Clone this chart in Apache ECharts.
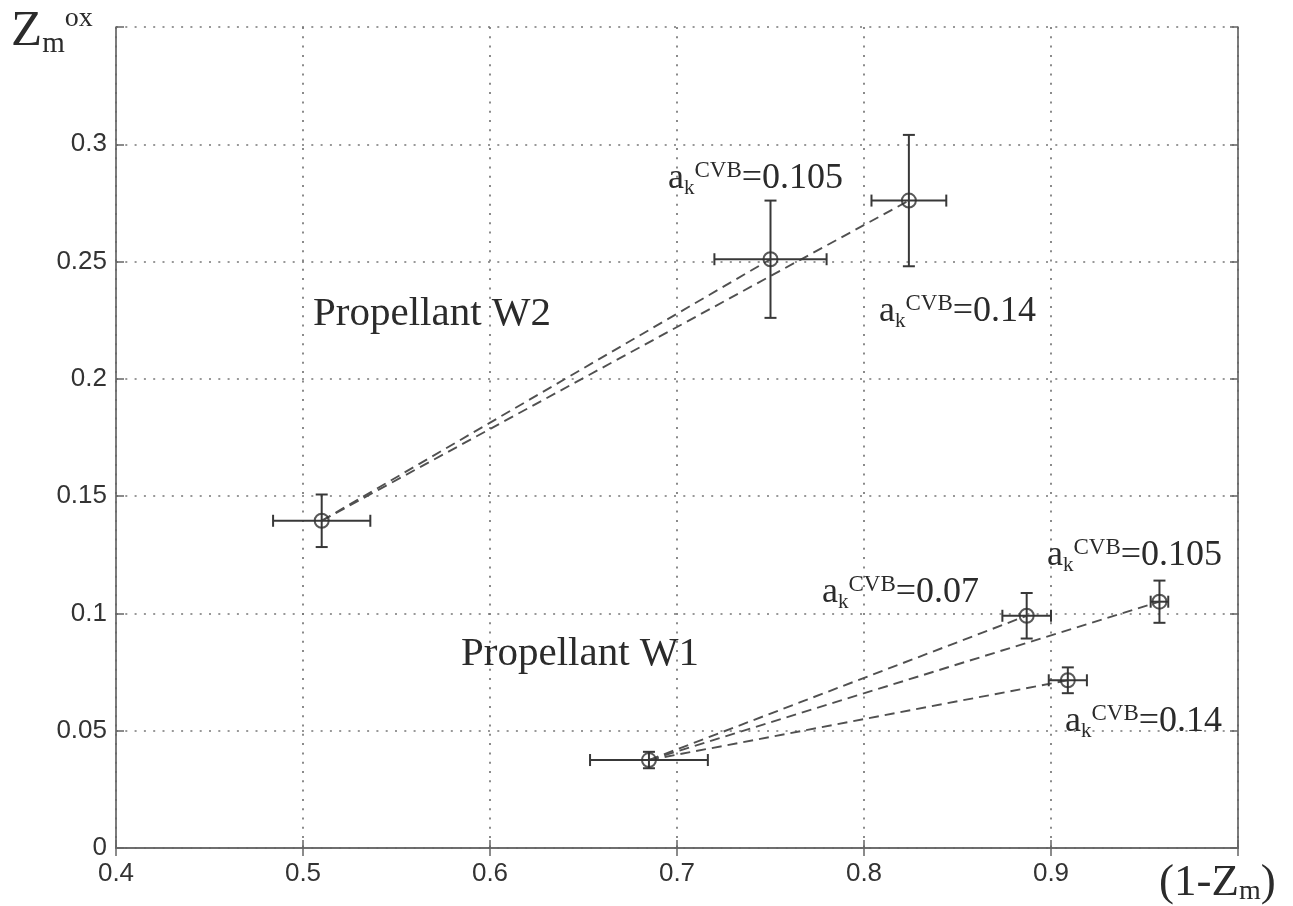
<!DOCTYPE html>
<html>
<head>
<meta charset="utf-8">
<title>Propellant W1 / W2</title>
<script src="https://cdn.jsdelivr.net/npm/echarts@6/dist/echarts.min.js"></script>
<style>
  html, body { margin: 0; padding: 0; background: #ffffff; }
  #chart { width: 1293px; height: 906px; }
</style>
</head>
<body>
<div id="chart"></div>
<script>
// Propellant W2: first point is the base state, the others follow it
const w2X = [0.51, 0.75, 0.824];
const w2Y = [0.1395, 0.251, 0.276];
const w2XErr = [0.026, 0.03, 0.02];
const w2YErr = [0.0112, 0.025, 0.028];

// Propellant W1: first point is the base state, the others follow it
const w1X = [0.685, 0.887, 0.958, 0.909];
const w1Y = [0.0375, 0.099, 0.105, 0.0715];
const w1XErr = [0.0315, 0.013, 0.0047, 0.0102];
const w1YErr = [0.0035, 0.0097, 0.009, 0.0055];

// Axis ticks
const xTicks = [0.4, 0.5, 0.6, 0.7, 0.8, 0.9, 1.0];
const yTicks = [0, 0.05, 0.1, 0.15, 0.2, 0.25, 0.3, 0.35];
const xTickLabels = ['0.4', '0.5', '0.6', '0.7', '0.8', '0.9', ''];
const yTickLabels = ['0', '0.05', '0.1', '0.15', '0.2', '0.25', '0.3', ''];

const SERIF = '"Liberation Serif", "Times New Roman", serif';
const SANS = '"Liberation Sans", Arial, Helvetica, sans-serif';
const INK = '#2b2b2b';

function tickLabel(ticks, labels) {
  return function (v) {
    for (let i = 0; i < ticks.length; i++) {
      if (Math.abs(ticks[i] - v) < 1e-9) return labels[i];
    }
    return '';
  };
}

function errorRows(xs, ys, dxs, dys) {
  return xs.map((x, i) => [x, ys[i], dxs[i], dys[i]]);
}

// dashed link from the base point to every other point of the same propellant
function links(xs, ys) {
  const out = [];
  for (let i = 1; i < xs.length; i++) out.push([[xs[0], ys[0]], [xs[i], ys[i]]]);
  return out;
}

function renderErrorBars(params, api) {
  const x = api.value(0), y = api.value(1), dx = api.value(2), dy = api.value(3);
  const l = api.coord([x - dx, y]), r = api.coord([x + dx, y]);
  const t = api.coord([x, y + dy]), b = api.coord([x, y - dy]);
  const cap = 6;
  const style = { stroke: '#383838', lineWidth: 2 };
  const seg = (x1, y1, x2, y2) => ({ type: 'line', shape: { x1, y1, x2, y2 }, style });
  return {
    type: 'group',
    children: [
      seg(l[0], l[1], r[0], r[1]),
      seg(l[0], l[1] - cap, l[0], l[1] + cap),
      seg(r[0], r[1] - cap, r[0], r[1] + cap),
      seg(t[0], t[1], b[0], b[1]),
      seg(t[0] - cap, t[1], t[0] + cap, t[1]),
      seg(b[0] - cap, b[1], b[0] + cap, b[1])
    ]
  };
}

const linkStyle = { color: '#505050', width: 1.9, type: [10, 6] };

const series = [];
links(w2X, w2Y).concat(links(w1X, w1Y)).forEach(seg => {
  series.push({
    type: 'line', data: seg, showSymbol: false, symbol: 'none',
    lineStyle: linkStyle, silent: true, z: 2
  });
});
series.push({
  type: 'custom', name: 'W2 error', renderItem: renderErrorBars,
  data: errorRows(w2X, w2Y, w2XErr, w2YErr), encode: { x: 0, y: 1 }, z: 3
});
series.push({
  type: 'custom', name: 'W1 error', renderItem: renderErrorBars,
  data: errorRows(w1X, w1Y, w1XErr, w1YErr), encode: { x: 0, y: 1 }, z: 3
});
[[w2X, w2Y], [w1X, w1Y]].forEach(([xs, ys]) => {
  series.push({
    type: 'scatter', symbol: 'circle', symbolSize: 14,
    data: xs.map((x, i) => [x, ys[i]]),
    itemStyle: { color: 'rgba(0,0,0,0)', borderColor: '#303030', borderWidth: 2 },
    z: 4
  });
});

// a_k^CVB annotation as rich text; (left, baseline) in pixels
const akRich = {
  a: { fontSize: 36, lineHeight: 40, fontFamily: SERIF, fill: INK },
  k: { fontSize: 21, lineHeight: 25, verticalAlign: 'bottom', fontFamily: SERIF, fill: INK },
  s: { fontSize: 23, lineHeight: 13, verticalAlign: 'top', fontFamily: SERIF, fill: INK }
};
function akNote(value, left, baseline) {
  return {
    type: 'text', x: left, y: baseline - 31, z: 10,
    style: {
      text: '{a|a}{k|k}{s|CVB}{a|=' + value + '}',
      rich: akRich, align: 'left', verticalAlign: 'top'
    }
  };
}
function plainNote(text, left, baseline) {
  return {
    type: 'text', x: left, y: baseline - 35.5, z: 10,
    style: {
      text: text, fontSize: 41, lineHeight: 46, fontFamily: SERIF,
      fill: INK, align: 'left', verticalAlign: 'top'
    }
  };
}

const graphic = [
  plainNote('Propellant W2', 313, 327),
  plainNote('Propellant W1', 461, 667),
  akNote('0.105', 668, 190),
  akNote('0.14', 879, 323),
  akNote('0.07', 822, 604),
  akNote('0.105', 1047, 567),
  akNote('0.14', 1065, 733),
  // y axis name
  {
    type: 'text', x: 11, y: 5, z: 10,
    style: {
      text: '{z|Z}{m|m}{o|ox}',
      align: 'left', verticalAlign: 'top',
      rich: {
        z: { fontSize: 51, lineHeight: 54, fontFamily: SERIF, fill: INK },
        m: { fontSize: 29, lineHeight: 28, verticalAlign: 'bottom', fontFamily: SERIF, fill: INK },
        o: { fontSize: 28, lineHeight: 24, verticalAlign: 'top', fontFamily: SERIF, fill: INK }
      }
    }
  },
  // x axis name
  {
    type: 'text', x: 1159, y: 860, z: 10,
    style: {
      text: '{p|(1-Z}{m|m}{p|)}',
      align: 'left', verticalAlign: 'top',
      rich: {
        p: { fontSize: 45, lineHeight: 46, fontFamily: SERIF, fill: INK },
        m: { fontSize: 28, lineHeight: 26, verticalAlign: 'bottom', fontFamily: SERIF, fill: INK }
      }
    }
  }
];

const axisLine = { show: true, lineStyle: { color: '#666666', width: 1.7 } };
const tick = { show: true, inside: true, length: 8, lineStyle: { color: '#666666', width: 1.5 } };
const grid = { show: true, lineStyle: { color: '#777777', width: 1.7, type: [2, 7.3] } };
const xRange = { min: xTicks[0], max: xTicks[xTicks.length - 1], interval: 0.1 };
const yRange = { min: yTicks[0], max: yTicks[yTicks.length - 1], interval: 0.05 };

const option = {
  animation: false,
  backgroundColor: '#ffffff',
  grid: { left: 116, right: 55, top: 27, bottom: 58, containLabel: false, outerBoundsMode: 'none' },
  xAxis: [
    Object.assign({
      type: 'value', position: 'bottom', axisLine, axisTick: tick, splitLine: grid,
      axisLabel: {
        formatter: tickLabel(xTicks, xTickLabels), color: '#333333',
        fontSize: 26, fontFamily: SANS, margin: 13, showMaxLabel: true
      }
    }, xRange),
    Object.assign({
      type: 'value', position: 'top', axisLine, axisTick: tick,
      splitLine: { show: false }, axisLabel: { show: false }
    }, xRange)
  ],
  yAxis: [
    Object.assign({
      type: 'value', position: 'left', axisLine, axisTick: tick, splitLine: grid,
      axisLabel: {
        formatter: tickLabel(yTicks, yTickLabels), color: '#333333',
        fontSize: 26, fontFamily: SANS, margin: 9
      }
    }, yRange),
    Object.assign({
      type: 'value', position: 'right', axisLine, axisTick: tick,
      splitLine: { show: false }, axisLabel: { show: false }
    }, yRange)
  ],
  series: series,
  graphic: graphic
};

const chart = echarts.init(document.getElementById('chart'), null, { renderer: 'canvas' });
chart.setOption(option);
</script>
</body>
</html>
